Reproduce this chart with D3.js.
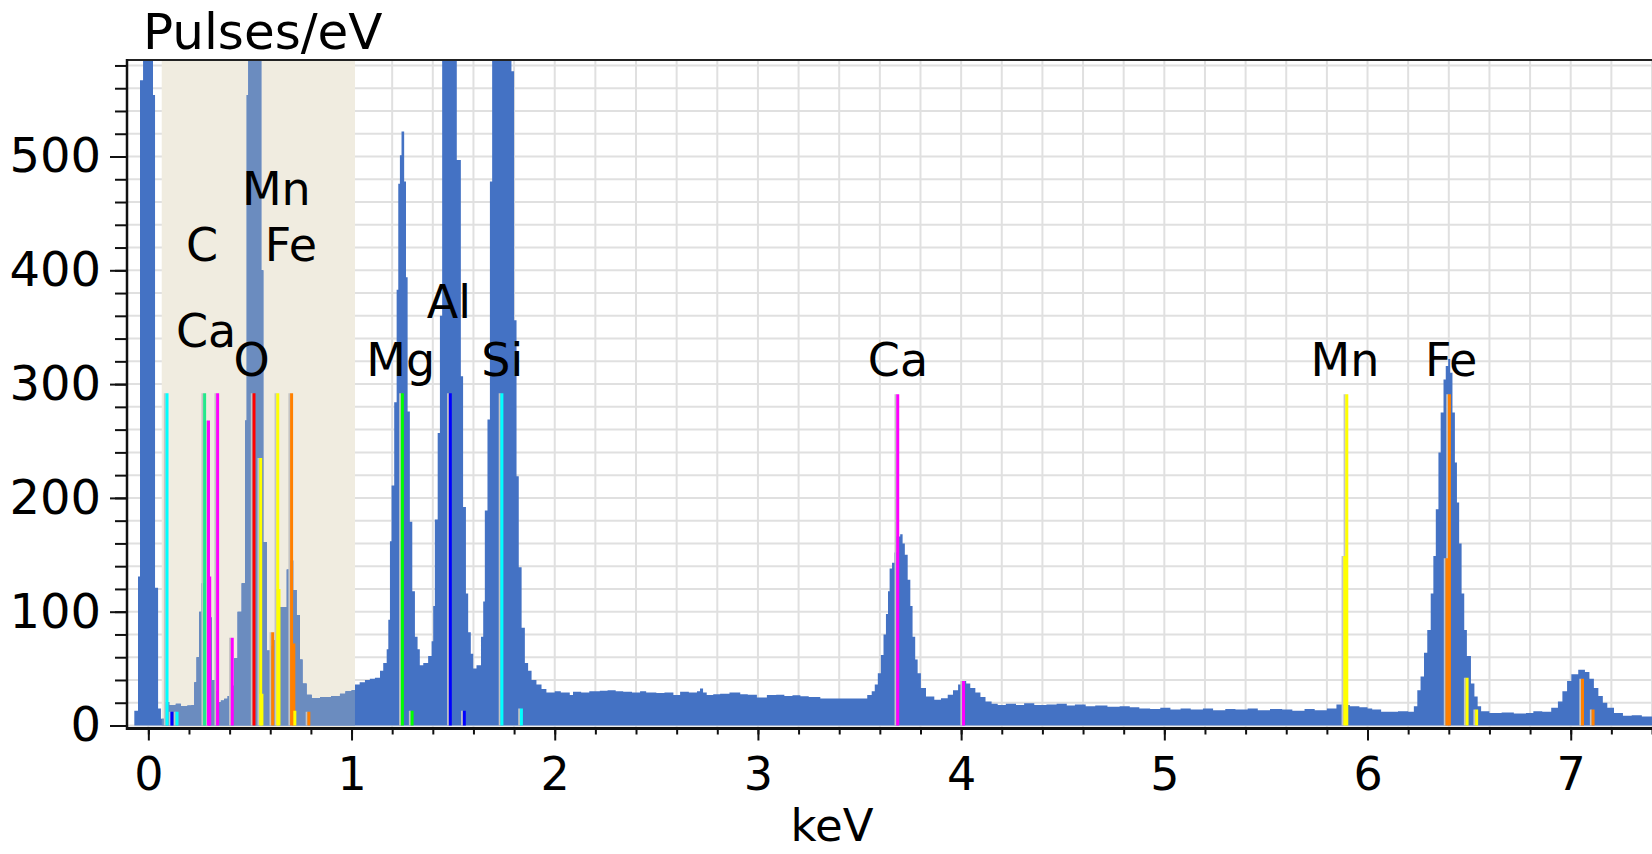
<!DOCTYPE html>
<html><head><meta charset="utf-8">
<script src="https://cdn.jsdelivr.net/npm/d3@7"></script>
<style>html,body{margin:0;padding:0;background:#fff;overflow:hidden}</style>
</head><body><svg id="chart" width="1652" height="854"></svg>
<script>
// ---------------- DATA ----------------
// Spectrum: [energy keV (start of channel step), pulses/eV]
const lowEnergyRegion = [
  [-0.105,0],[-0.069,13],[-0.051,131],[-0.041,567],[-0.026,1000],[0.023,554],[0.033,121],[0.048,15],
  [0.062,6],[0.079,20.6],[0.103,18],[0.135,19],[0.160,17],[0.192,17.5],[0.213,18],[0.226,38],[0.237,60],
  [0.250,100],[0.262,125],[0.286,131],[0.300,95],[0.313,40],[0.327,30],[0.340,20.6],[0.357,22],[0.373,23.5],
  [0.390,26],[0.406,35],[0.422,59],[0.439,100],[0.459,125],[0.476,268],[0.484,554],[0.492,900],[0.556,400],
  [0.566,161],[0.584,66],[0.607,70],[0.618,75],[0.631,90],[0.645,104],[0.681,137],[0.700,145],[0.713,119],
  [0.730,97],[0.746,58],[0.759,37],[0.779,27],[0.804,24],[0.845,25],[0.900,26],[0.943,28],[0.970,30],[1.000,31]
];
const mgAlSiRegion = [
  [1.017,36],[1.040,38],[1.066,40],[1.090,41],[1.115,42],[1.140,48],[1.156,55],[1.173,67],[1.181,93],
  [1.189,162],[1.197,211],[1.210,284],[1.222,383],[1.230,476],[1.238,501],[1.246,522],[1.259,478],
  [1.268,394],[1.276,276],[1.287,179],[1.299,118],[1.312,78],[1.325,67],[1.336,53],[1.353,55],[1.377,61],
  [1.394,74],[1.402,105],[1.410,181],[1.424,257],[1.435,360],[1.446,1300],[1.518,497],[1.538,307],
  [1.549,192],[1.563,116],[1.574,82],[1.587,63],[1.599,50],[1.615,53],[1.637,78],[1.648,109],[1.656,189],
  [1.669,269],[1.681,478],[1.692,1500],[1.775,1500],[1.787,575],[1.800,356],[1.812,219],[1.823,139],
  [1.837,86],[1.853,55],[1.869,48],[1.886,40],[1.910,36],[1.935,32],[1.959,29]
];
const backgroundRegion = [
  [2.000,30],[2.030,29],[2.074,26.7],[2.090,29.6],[2.130,29],[2.170,30],[2.222,30.5],[2.260,31],[2.300,30],
  [2.337,29.6],[2.380,29],[2.420,30],[2.450,29],[2.500,28.5],[2.540,29],[2.584,26.7],[2.617,29.6],[2.660,29],
  [2.700,30],[2.715,32.5],[2.730,29],[2.748,26.7],[2.780,27.5],[2.814,28],[2.860,29],[2.913,27.5],[2.950,27],
  [2.995,24.6],[3.044,26.7],[3.090,27],[3.130,26],[3.170,26.5],[3.209,25.8],[3.250,25],[3.307,23.7],
  [3.400,23.7],[3.500,23.7]
];
const caRegion = [
  [3.538,26.7],[3.560,30],[3.575,36],[3.590,46],[3.605,62],[3.618,80],[3.630,98],[3.640,118],[3.648,138],
  [3.660,143],[3.672,152],[3.682,166],[3.700,168],[3.712,160],[3.723,150],[3.737,128],[3.750,105],
  [3.761,78],[3.774,58],[3.786,46],[3.802,33],[3.827,25.5],[3.868,22.6],[3.901,24],[3.934,27],[3.960,31],
  [3.985,36],[4.005,39],[4.025,37],[4.045,33],[4.070,29],[4.095,25],[4.120,21],[4.150,19]
];
const midBackground = [
  [4.180,18],[4.220,19],[4.270,18],[4.310,19.5],[4.360,18],[4.420,18.5],[4.470,19],[4.520,17.5],[4.560,18.5],
  [4.613,17],[4.660,17.5],[4.720,16.5],[4.780,17],[4.830,16],[4.877,15],[4.930,14.5],[4.980,15.5],[5.030,14],
  [5.080,15],[5.130,14],[5.190,15],[5.240,13.5],[5.300,14.5],[5.350,14],[5.410,15],[5.460,13.5],[5.520,14.5],
  [5.580,14],[5.630,13],[5.690,14.5],[5.740,13.5],[5.800,15],[5.847,18.5],[5.891,18],[5.913,17],[5.960,16],
  [6.000,15],[6.023,14],[6.067,12],[6.150,12.5],[6.200,12]
];
const feRegion = [
  [6.228,17],[6.245,31],[6.261,43],[6.278,64],[6.294,84],[6.311,116],[6.324,149],[6.336,190],[6.349,240],
  [6.360,275],[6.374,304],[6.385,316],[6.397,322],[6.407,310],[6.418,275],[6.430,231],[6.440,196],
  [6.451,160],[6.463,116],[6.476,84],[6.489,61],[6.509,37],[6.526,25.5],[6.542,17],[6.559,12.5],[6.600,11],
  [6.660,11.5],[6.720,10.5],[6.780,11],[6.816,12.5],[6.860,12],[6.904,15.5],[6.937,21],[6.959,30],[6.982,39],
  [7.003,45],[7.037,49],[7.070,47],[7.092,41],[7.114,33],[7.136,26],[7.158,20],[7.180,15.5],[7.213,11],
  [7.257,8.5],[7.300,9],[7.350,8],[7.410,8]
];

// Characteristic X-ray marker lines
const lineElement = ["Si","Al","Si","C","Ca","Ca","Ca","Ca","O","Mn","Mn","Fe","Mn","Mn","Fe","Fe","Mn","Fe",
                     "Mg","Mg","Al","Al","Si","Si","Ca","Ca","Mn","Mn","Fe","Fe","Mn","Mn","Fe","Fe"];
const lineKeV     = [0.092,0.116,0.141,0.277,0.296,0.302,0.341,0.413,0.520,0.553,0.559,0.612,0.637,0.643,0.705,0.716,0.721,0.790,
                     1.250,1.298,1.486,1.555,1.740,1.836,3.688,4.012,5.888,5.898,6.391,6.403,6.490,6.537,7.058,7.110];
const lineHeight  = [292,12,12,292,268,131,292,77,292,235,28,82,292,120,292,72,13,12,
                     292,13,292,13,292,15,291,39,149,291,147,291,42,14,41,14];

// Element labels: text, anchor energy (keV), label baseline level (pulses/eV)
const labelText  = ["Mn","C","Fe","Ca","O","Mg","Al","Si","Ca","Mn","Fe"];
const labelKeV   = [0.630,0.265,0.702,0.284,0.508,1.242,1.479,1.742,3.689,5.889,6.412];
const labelLevel = [457,408,408,333,307,307,358,307,307,307,307];

const xTickLabels = [0,1,2,3,4,5,6,7];
const yTickLabels = [0,100,200,300,400,500];
const shadedRange = [0.066, 1.017];
const yAxisTitle = "Pulses/eV";
const xAxisTitle = "keV";

// ---------------- STYLE ----------------
const elementColor = {Si:"#00FFFF",Al:"#0000FF",C:"#22E88A",Ca:"#FF00FF",O:"#FF0000",Mn:"#FFFF00",Fe:"#FF8000",Mg:"#00FF00"};
const FONT = "'DejaVu Sans', Verdana, sans-serif";

// ---------------- DRAW ----------------
const spectrum = [].concat(lowEnergyRegion, mgAlSiRegion, backgroundRegion, caRegion, midBackground, feRegion);
const plot = {left:127, top:60, right:1652, bottom:728.5};
const x = d3.scaleLinear().domain([-0.105, 7.40]).range([plot.left, plot.right]);
const y = d3.scaleLinear().domain([-2.64, 584.8]).range([plot.bottom, plot.top]);

const svg = d3.select("#chart");
const defs = svg.append("defs");
defs.append("clipPath").attr("id","plotClip").append("rect")
  .attr("x",plot.left).attr("y",plot.top).attr("width",plot.right-plot.left).attr("height",plot.bottom-plot.top);
defs.append("clipPath").attr("id","shadeClip").append("rect")
  .attr("x",x(shadedRange[0])).attr("y",plot.top).attr("width",x(shadedRange[1])-x(shadedRange[0])).attr("height",plot.bottom-plot.top);

const body = svg.append("g").attr("clip-path","url(#plotClip)");

// grid
const xGrid = d3.range(0, 38).map(i => +(i*0.2).toFixed(1));
const yGrid = d3.range(0, 30).map(i => i*20);
body.append("g").selectAll("line").data(xGrid).join("line")
  .attr("x1",d=>x(d)).attr("x2",d=>x(d)).attr("y1",plot.top).attr("y2",plot.bottom)
  .attr("stroke","#E0E0E0").attr("stroke-width",2);
body.append("g").selectAll("line").data(yGrid).join("line")
  .attr("x1",plot.left).attr("x2",plot.right).attr("y1",d=>y(d)).attr("y2",d=>y(d))
  .attr("stroke","#E0E0E0").attr("stroke-width",2);

// shaded region
body.append("rect").attr("x",x(shadedRange[0])).attr("y",plot.top)
  .attr("width",x(shadedRange[1])-x(shadedRange[0])).attr("height",plot.bottom-plot.top)
  .attr("fill","#F0ECE0");

// spectrum
const area = d3.area().curve(d3.curveStepAfter)
  .x(d=>x(d[0])).y0(y(0)).y1(d=>y(Math.min(d[1], 700)));
body.append("path").datum(spectrum).attr("d",area).attr("fill","#4472C4");
body.append("g").attr("clip-path","url(#shadeClip)")
  .append("path").datum(spectrum).attr("d",area).attr("fill","#6B8CBF");

// marker lines
const lines = lineKeV.map((k,i)=>({k, h:lineHeight[i], el:lineElement[i]}));
const lg = body.append("g");
lg.selectAll("line.sh").data(lines).join("line").attr("class","sh")
  .attr("x1",d=>x(d.k)-2.2).attr("x2",d=>x(d.k)-2.2).attr("y1",y(0)).attr("y2",d=>y(d.h))
  .attr("stroke","#C4C4C4").attr("stroke-width",2);
lg.selectAll("line.el").data(lines).join("line").attr("class","el")
  .attr("x1",d=>x(d.k)).attr("x2",d=>x(d.k)).attr("y1",y(0)).attr("y2",d=>y(d.h))
  .attr("stroke",d=>elementColor[d.el]).attr("stroke-width",3);

// element labels
body.append("g").selectAll("text").data(labelText).join("text")
  .attr("x",(d,i)=>x(labelKeV[i])).attr("y",(d,i)=>y(labelLevel[i]))
  .attr("text-anchor","middle").attr("font-family",FONT).attr("font-size",46).attr("fill","#000")
  .text(d=>d);

// frame / axes
svg.append("line").attr("x1",plot.left).attr("x2",plot.right).attr("y1",plot.top).attr("y2",plot.top)
  .attr("stroke","#222").attr("stroke-width",2);

const yMinor = d3.range(0, 30).map(i=>i*20);
svg.append("g").attr("transform",`translate(${plot.left},0)`)
  .call(d3.axisLeft(y).tickValues(yMinor).tickSize(12).tickFormat(""))
  .call(g=>g.select(".domain").remove())
  .call(g=>g.selectAll("line").attr("stroke","#111").attr("stroke-width",2));
svg.append("g").attr("transform",`translate(${plot.left},0)`)
  .call(d3.axisLeft(y).tickValues(yTickLabels).tickSize(17).tickPadding(9))
  .call(g=>g.select(".domain").remove())
  .call(g=>g.selectAll("line").attr("stroke","#111").attr("stroke-width",2))
  .call(g=>g.selectAll("text").attr("font-family",FONT).attr("font-size",48).attr("fill","#000"));

const xMinor = d3.range(0, 38).map(i => +(i*0.2).toFixed(1));
svg.append("g").attr("transform",`translate(0,${plot.bottom})`)
  .call(d3.axisBottom(x).tickValues(xMinor).tickSize(6).tickFormat(""))
  .call(g=>g.select(".domain").remove())
  .call(g=>g.selectAll("line").attr("stroke","#111").attr("stroke-width",2));
svg.append("g").attr("transform",`translate(0,${plot.bottom})`)
  .call(d3.axisBottom(x).tickValues(xTickLabels).tickSize(12).tickPadding(17))
  .call(g=>g.select(".domain").remove())
  .call(g=>g.selectAll("line").attr("stroke","#111").attr("stroke-width",2))
  .call(g=>g.selectAll("text").attr("font-family",FONT).attr("font-size",46).attr("fill","#000"));

svg.append("line").attr("x1",plot.left).attr("x2",plot.left).attr("y1",plot.top-1).attr("y2",plot.bottom+1.5)
  .attr("stroke","#111").attr("stroke-width",2.5);
svg.append("line").attr("x1",plot.left).attr("x2",plot.right).attr("y1",plot.bottom).attr("y2",plot.bottom)
  .attr("stroke","#111").attr("stroke-width",3);

// titles
svg.append("text").attr("x",143).attr("y",49).attr("font-family",FONT).attr("font-size",50)
  .attr("fill","#000").text(yAxisTitle);
svg.append("text").attr("x",832).attr("y",841).attr("text-anchor","middle").attr("font-family",FONT)
  .attr("font-size",45).attr("fill","#000").text(xAxisTitle);
</script></body></html>
